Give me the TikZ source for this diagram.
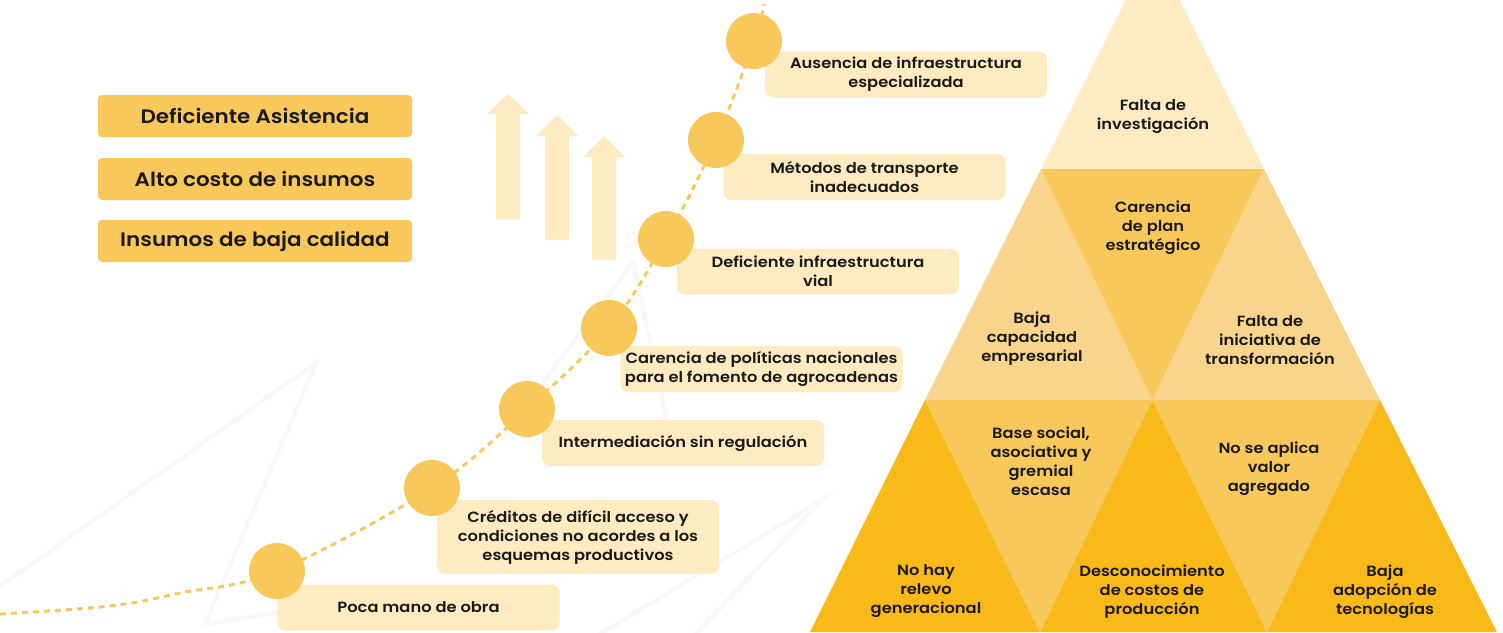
\documentclass[tikz,border=0pt]{standalone}
\usepackage{fontspec}
\setmainfont{Poppins}[BoldFont={Poppins SemiBold}, FakeStretch=1.1]
\definecolor{gold}{HTML}{F9C85A}
\definecolor{cream}{HTML}{FEEBC1}
\definecolor{peach}{HTML}{F8D48C}
\definecolor{amber}{HTML}{F9B918}
\definecolor{ink}{HTML}{1A1A1A}
\definecolor{ghost}{HTML}{F8F8F8}
\begin{document}
\begin{tikzpicture}[x=1pt,y=-1pt,
  causebox/.style={fill=gold, rounded corners=4pt, minimum width=314pt, minimum height=42pt, inner sep=0pt, font=\fontsize{19.5}{24}\selectfont\bfseries, text=ink},
  labelbox/.style={fill=cream, rounded corners=8pt, minimum width=282pt, minimum height=46pt, inner sep=0pt, align=center, font=\fontsize{14.8}{19}\selectfont\bfseries, text=ink},
  dot/.style={circle, fill=gold, minimum size=56pt, inner sep=0pt},
  uparrow/.style={fill=cream},
  pyrtext/.style={align=center, inner sep=0pt, font=\fontsize{14.8}{19}\selectfont\bfseries, text=ink},
  trail/.style={draw=gold, line width=3pt, dash pattern=on 6pt off 5pt},
  faint/.style={draw=ghost, line width=4.5pt}
]
\useasboundingbox (0,0) rectangle (1503,632);
\clip (0,0) rectangle (1503,632);

% faint background strokes
\draw[faint] (-5,590) -- (316,363) -- (205,624) -- (330,604);
\draw[faint] (500,440) -- (633,262) -- (667,420);
\draw[faint] (590,640) -- (822,500) -- (690,640);

% cause boxes
\node[causebox] (b1) at (255,116) {Deficiente Asistencia};
\node[causebox] (b2) at (255,179) {Alto costo de insumos};
\node[causebox] (b3) at (255,241) {Insumos de baja calidad};

% up arrows
\fill[uparrow] (496,219) -- (496,114) -- (487,114) -- (508,94) -- (529,114) -- (520,114) -- (520,219) -- cycle;
\fill[uparrow] (545,240) -- (545,136) -- (536,136) -- (557,115) -- (578,136) -- (569,136) -- (569,240) -- cycle;
\fill[uparrow] (592,260) -- (592,157) -- (583,157) -- (604,136) -- (625,157) -- (616,157) -- (616,260) -- cycle;

% label boxes
\node[labelbox] (l1) at (418.5,607.5) {Poca mano de obra};
\node[labelbox, minimum height=74pt] (l2) at (578,537) {Créditos de difícil acceso y\\condiciones no acordes a los\\esquemas productivos};
\node[labelbox] (l3) at (683,443) {Intermediación sin regulación};
\node[labelbox] (l4) at (761.5,369) {Carencia de políticas nacionales\\para el fomento de agrocadenas};
\node[labelbox] (l5) at (818,271.5) {Deficiente infraestructura\\vial};
\node[labelbox] (l6) at (864.5,177) {Métodos de transporte\\inadecuados};
\node[labelbox] (l7) at (906,74.5) {Ausencia de infraestructura\\especializada};

% dashed trail
\coordinate (s) at (0,614);
\coordinate (s2) at (110,606);
\coordinate (s3) at (180,593);
\coordinate (c1) at (277,571);
\coordinate (c2) at (432,488);
\coordinate (c3) at (527,409);
\coordinate (c4) at (609,328);
\coordinate (c5) at (666,239);
\coordinate (c6) at (716,140);
\coordinate (c7) at (754,41);
\coordinate (e) at (764,4);
\draw[trail] plot[smooth, tension=0.6] coordinates {(s) (s2) (s3) (c1) (c2) (c3) (c4) (c5) (c6) (c7) (e)};

% circles
\foreach \i in {1,...,7} \node[dot] (d\i) at (c\i) {};

% pyramid
\coordinate (A) at (1152.5,-54);
\coordinate (L1) at (1041,169);
\coordinate (R1) at (1264,169);
\coordinate (L2) at (925,400);
\coordinate (M2) at (1152.5,400);
\coordinate (R2) at (1380,400);
\coordinate (L3) at (810,632);
\coordinate (N1) at (1040,632);
\coordinate (N2) at (1267,632);
\coordinate (R3) at (1497,632);
\fill[cream] (A) -- (L1) -- (R1) -- cycle;
\fill[peach] (L1) -- (L2) -- (M2) -- cycle;
\fill[gold] (L1) -- (R1) -- (M2) -- cycle;
\fill[peach] (R1) -- (M2) -- (R2) -- cycle;
\fill[amber] (L2) -- (L3) -- (N1) -- cycle;
\fill[gold] (L2) -- (M2) -- (N1) -- cycle;
\fill[amber] (M2) -- (N1) -- (N2) -- cycle;
\fill[gold] (M2) -- (R2) -- (N2) -- cycle;
\fill[amber] (R2) -- (N2) -- (R3) -- cycle;

\node[pyrtext] (p1) at (1153,117) {Falta de\\investigación};
\node[pyrtext] (p2) at (1153,228) {Carencia\\de plan\\estratégico};
\node[pyrtext] (p3) at (1032,339) {Baja\\capacidad\\empresarial};
\node[pyrtext] (p4) at (1270,340) {Falta de\\iniciativa de\\transformación};
\node[pyrtext] (p5) at (1041,461) {Base social,\\asociativa y\\gremial\\escasa};
\node[pyrtext] (p6) at (1269,469) {No se aplica\\valor\\agregado};
\node[pyrtext] (p7) at (926,591.5) {No hay\\relevo\\generacional};
\node[pyrtext] (p8) at (1152,591.5) {Desconocimiento\\de costos de\\producción};
\node[pyrtext] (p9) at (1385,591.5) {Baja\\adopción de\\tecnologías};
\end{tikzpicture}
\end{document}
